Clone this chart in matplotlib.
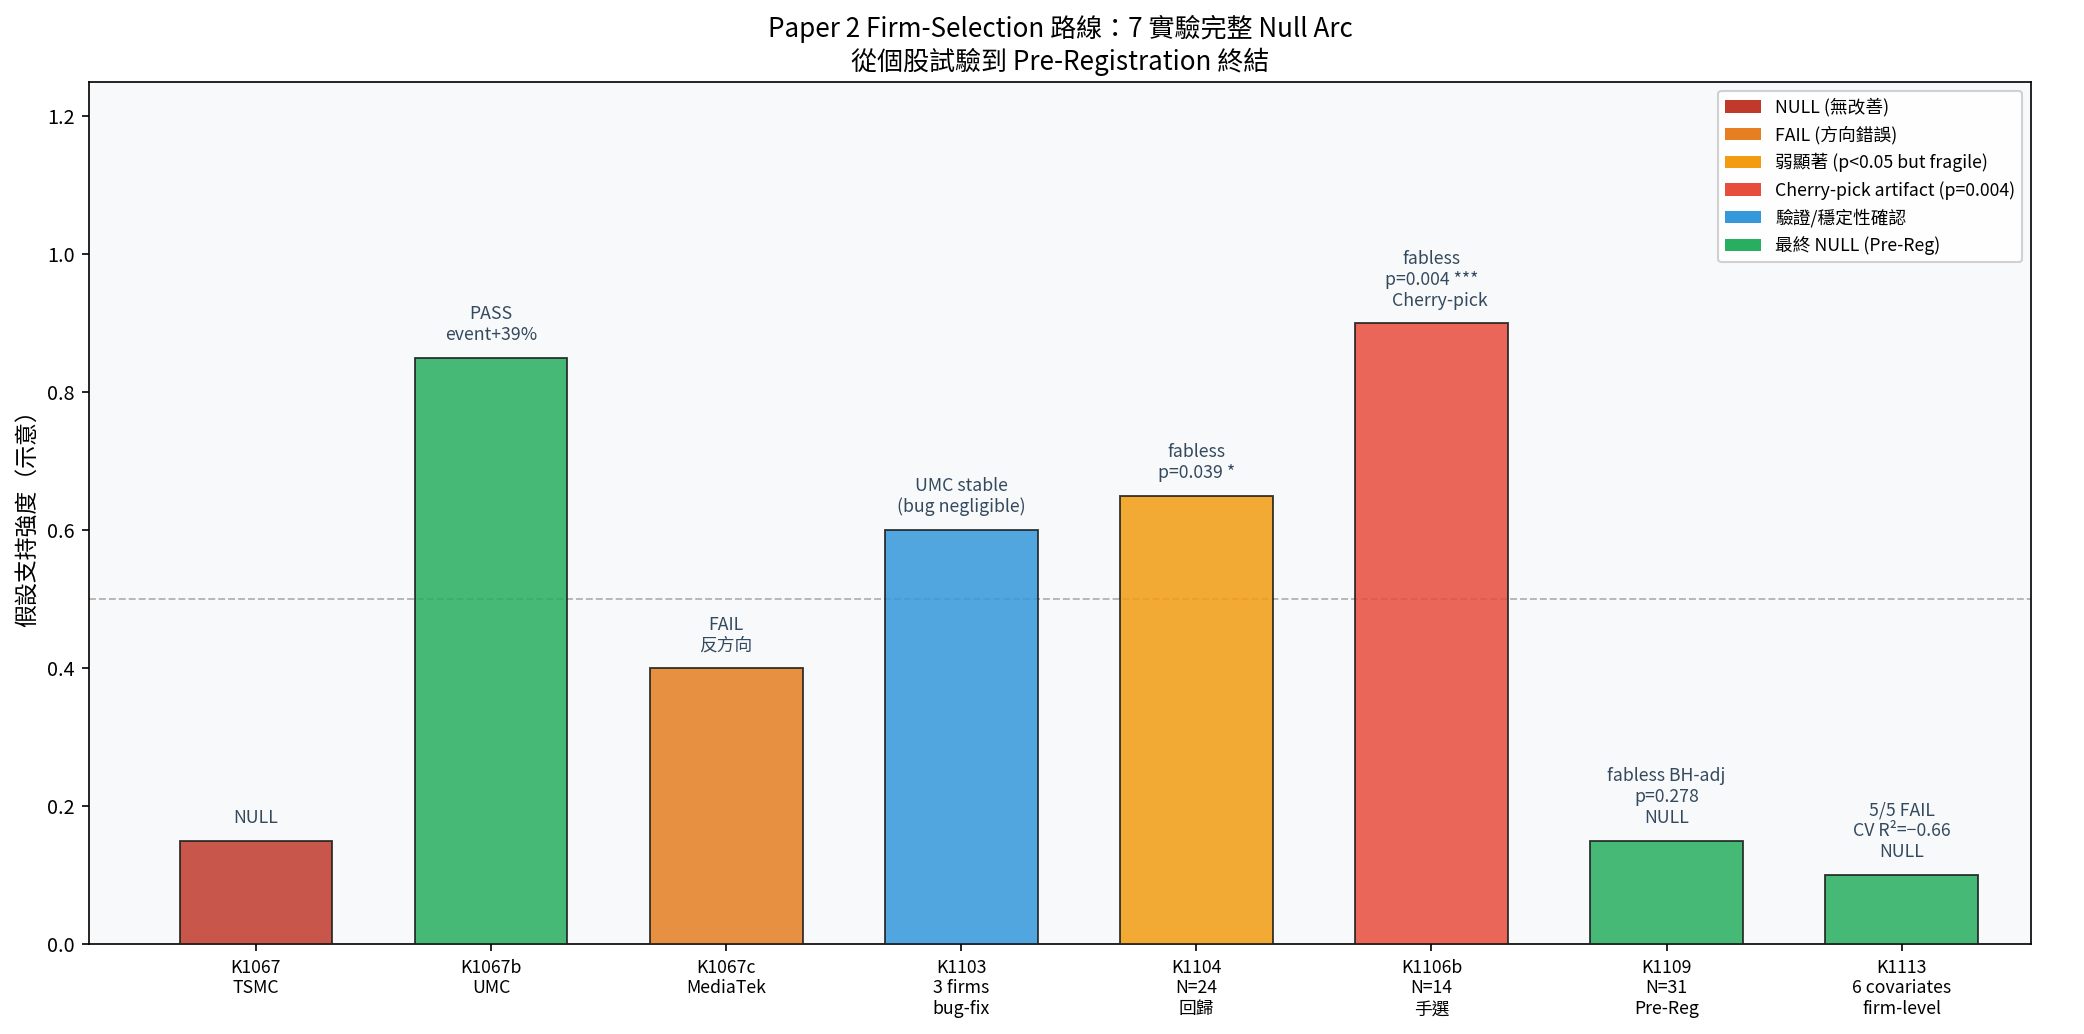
import matplotlib
matplotlib.use("Agg")
import matplotlib.pyplot as plt
from matplotlib.patches import Patch

plt.rcParams['font.family'] = ['Noto Sans CJK TC', 'DejaVu Sans']
plt.rcParams['axes.unicode_minus'] = False

labels = ['K1067\nTSMC', 'K1067b\nUMC', 'K1067c\nMediaTek', 'K1103\n3 firms\nbug-fix',
          'K1104\nN=24\n回歸', 'K1106b\nN=14\n手選', 'K1109\nN=31\nPre-Reg',
          'K1113\n6 covariates\nfirm-level']
values = [0.15, 0.85, 0.40, 0.60, 0.65, 0.90, 0.15, 0.10]
categories = ['null', 'final', 'fail', 'verify', 'weak', 'cherry', 'final', 'final']
notes = ['NULL', 'PASS\nevent+39%', 'FAIL\n反方向', 'UMC stable\n(bug negligible)',
         'fabless\np=0.039 *', 'fabless\np=0.004 ***\n    Cherry-pick',
         'fabless BH-adj\np=0.278\nNULL', '5/5 FAIL\nCV R²=−0.66\nNULL']

cat_colors = {
    'null': '#c0392b',
    'fail': '#e67e22',
    'weak': '#f39c12',
    'cherry': '#e74c3c',
    'verify': '#3498db',
    'final': '#27ae60',
}
legend_items = [
    ('null', 'NULL (無改善)'),
    ('fail', 'FAIL (方向錯誤)'),
    ('weak', '弱顯著 (p<0.05 but fragile)'),
    ('cherry', 'Cherry-pick artifact (p=0.004)'),
    ('verify', '驗證/穩定性確認'),
    ('final', '最終 NULL (Pre-Reg)'),
]

fig = plt.figure(figsize=(2084/150, 1034/150), dpi=150)
ax = fig.add_axes([89/2084, 1 - 944/1034, (2031-89)/2084, (944-82)/1034])
ax.set_facecolor('#f8f9fa')

x = list(range(len(values)))
colors = [cat_colors[c] for c in categories]
bars = ax.bar(x, values, width=0.65, color=colors, alpha=0.85, edgecolor='#1a1a1a', linewidth=0.9, zorder=3)

for xi, v, note in zip(x, values, notes):
    ax.text(xi, v + 0.02, note, ha='center', va='bottom', fontsize=8.5, color='#34495e', zorder=4)

ax.axhline(0.5, color='#999999', linestyle='--', linewidth=0.9, alpha=0.7, zorder=1)

ax.set_xticks(x)
ax.set_xticklabels(labels, fontsize=8.5)
ax.set_xlim(-0.71, 7.55)
ax.set_ylim(0, 1.25)
ax.set_yticks([0.0, 0.2, 0.4, 0.6, 0.8, 1.0, 1.2])
ax.tick_params(axis='y', labelsize=9.5)
ax.set_ylabel('假設支持強度（示意）', fontsize=11)

handles = [Patch(facecolor=cat_colors[k], label=lab) for k, lab in legend_items]
ax.legend(handles=handles, loc='upper right', fontsize=8.5, framealpha=0.9)

ax.set_title('Paper 2 Firm-Selection 路線：7 實驗完整 Null Arc\n從個股試驗到 Pre-Registration 終結',
             fontsize=12.5, pad=6)

fig.savefig('out.png', dpi=150)
